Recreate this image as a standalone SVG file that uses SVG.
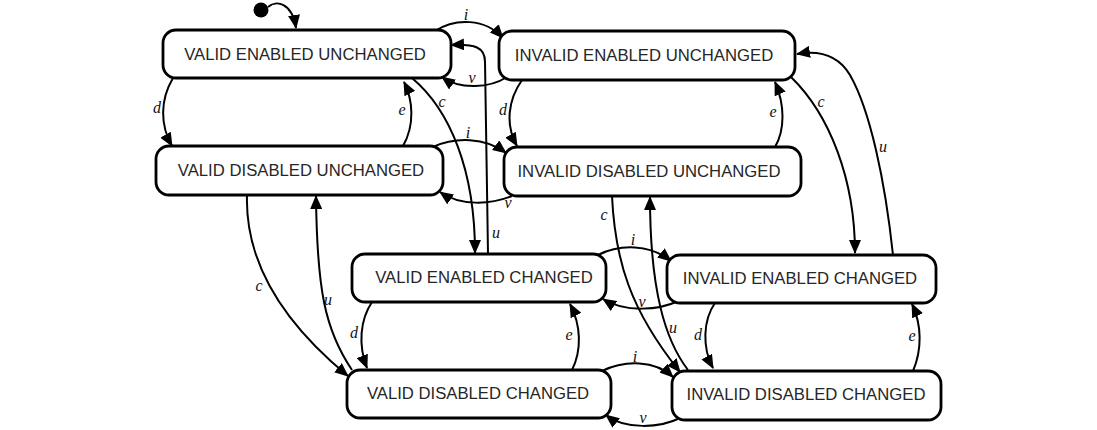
<svg xmlns="http://www.w3.org/2000/svg" width="1097" height="430" viewBox="0 0 1097 430">
<style>
.n rect{fill:#fff;stroke:#000;stroke-width:2.8}
.n text{font-family:"Liberation Sans",Arial,sans-serif;font-size:16.7px;fill:#262626;text-anchor:middle}
.e path{fill:none;stroke:#000;stroke-width:2;marker-end:url(#ah)}
.l text{font-family:"Liberation Serif","Times New Roman",serif;font-style:italic;font-size:16px;fill:#111;text-anchor:middle}
</style>
<defs>
<marker id="ah" markerWidth="14" markerHeight="12" refX="13" refY="6" orient="auto" markerUnits="userSpaceOnUse">
<path d="M0,0 L14,6 L0,12 z" fill="#000"/>
</marker>
</defs>
<rect width="1097" height="430" fill="#fff"/>
<g id="edges" class="e">
<path d="M268,7 C276,0 292,2 296,28"/>
<path d="M435,31 C455,18 485,18 503,38"/>
<path d="M507,77 C490,88 460,90 442,77"/>
<path d="M488,254 C487,180 485,90 485,62 C485,47 475,44 451,45"/>
<path d="M173,78 C160,100 160,125 172,146"/>
<path d="M403,146 C415,125 413,100 404,82"/>
<path d="M412,78 C450,110 475,170 475,253"/>
<path d="M433,147 C455,137 485,137 506,153"/>
<path d="M512,196 C490,205 460,206 440,192"/>
<path d="M522,80 C508,100 505,125 517,146"/>
<path d="M775,147 C785,130 785,105 775,82"/>
<path d="M791,77 C830,115 855,180 855,253"/>
<path d="M893,255 C885,180 870,110 850,75 C838,55 820,50 797,54"/>
<path d="M247,195 C245,260 280,320 348,376"/>
<path d="M352,370 C325,330 317,290 316,196"/>
<path d="M372,302 C360,320 358,345 367,368"/>
<path d="M572,370 C582,350 581,325 570,304"/>
<path d="M598,255 C620,244 650,244 671,261"/>
<path d="M678,301 C660,310 625,313 603,299"/>
<path d="M602,371 C625,360 655,360 673,377"/>
<path d="M680,418 C660,428 625,430 606,415"/>
<path d="M612,196 C615,260 630,310 680,372"/>
<path d="M688,370 C665,340 650,290 650,197"/>
<path d="M715,303 C703,320 702,348 713,368"/>
<path d="M913,371 C922,350 922,325 912,304"/>
</g>
<circle id="start" cx="261" cy="10" r="7.5" fill="#000"/>
<g id="labels" class="l">
<text x="466" y="20">i</text>
<text x="472" y="83">v</text>
<text x="157" y="113">d</text>
<text x="402" y="115">e</text>
<text x="442" y="107">c</text>
<text x="468" y="138">i</text>
<text x="508" y="208">v</text>
<text x="496" y="238">u</text>
<text x="503" y="115">d</text>
<text x="773" y="117">e</text>
<text x="821" y="107">c</text>
<text x="883" y="152">u</text>
<text x="604" y="220">c</text>
<text x="633" y="245">i</text>
<text x="642" y="307">v</text>
<text x="259" y="291">c</text>
<text x="328" y="305">u</text>
<text x="354" y="338">d</text>
<text x="569" y="340">e</text>
<text x="635" y="362">i</text>
<text x="643" y="423">v</text>
<text x="673" y="333">u</text>
<text x="698" y="340">d</text>
<text x="912" y="341">e</text>
</g>
<g id="veu" class="n"><rect x="163" y="30" width="288" height="48" rx="13"/><text x="305" y="60">VALID ENABLED UNCHANGED</text></g>
<g id="ieu" class="n"><rect x="499" y="31" width="296" height="49" rx="13"/><text x="644" y="61">INVALID ENABLED UNCHANGED</text></g>
<g id="vdu" class="n"><rect x="156" y="146" width="287" height="49" rx="13"/><text x="301" y="176">VALID DISABLED UNCHANGED</text></g>
<g id="idu" class="n"><rect x="504" y="147" width="297" height="49" rx="13"/><text x="649" y="177">INVALID DISABLED UNCHANGED</text></g>
<g id="vec" class="n"><rect x="352" y="254" width="254" height="48" rx="13"/><text x="484" y="283">VALID ENABLED CHANGED</text></g>
<g id="iec" class="n"><rect x="667" y="255" width="269" height="48" rx="13"/><text x="800" y="284">INVALID ENABLED CHANGED</text></g>
<g id="vdc" class="n"><rect x="347" y="370" width="264" height="48" rx="13"/><text x="478" y="399">VALID DISABLED CHANGED</text></g>
<g id="idc" class="n"><rect x="672" y="371" width="269" height="49" rx="13"/><text x="806" y="400">INVALID DISABLED CHANGED</text></g>
</svg>
